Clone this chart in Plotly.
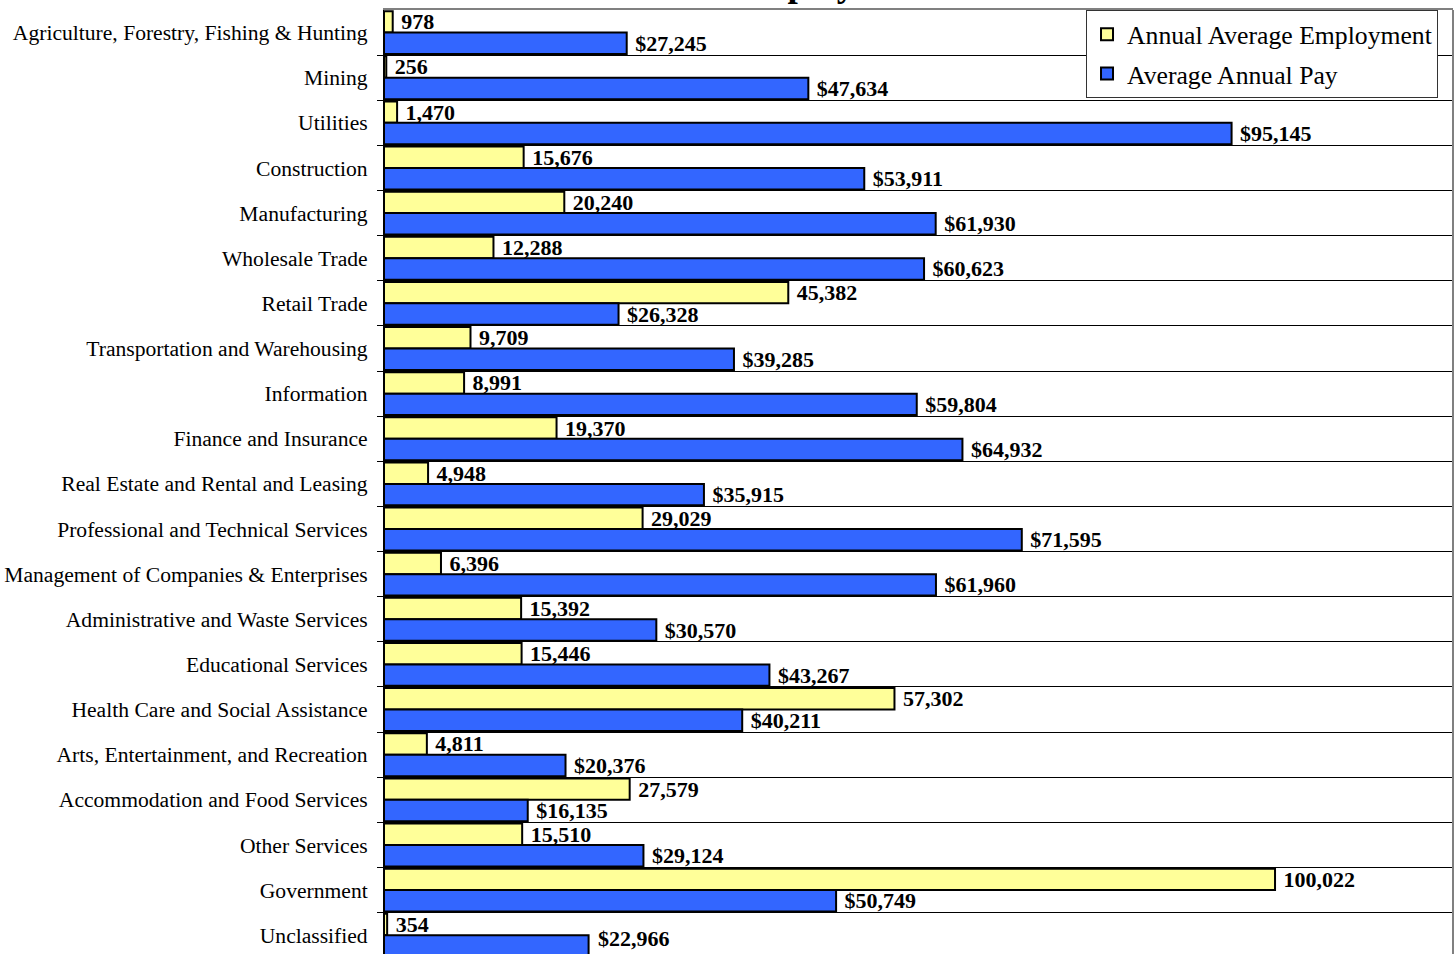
import plotly.graph_objects as go

industries = [
    "Agriculture, Forestry, Fishing & Hunting", "Mining", "Utilities", "Construction",
    "Manufacturing", "Wholesale Trade", "Retail Trade", "Transportation and Warehousing",
    "Information", "Finance and Insurance", "Real Estate and Rental and Leasing",
    "Professional and Technical Services", "Management of Companies & Enterprises",
    "Administrative and Waste Services", "Educational Services",
    "Health Care and Social Assistance", "Arts, Entertainment, and Recreation",
    "Accommodation and Food Services", "Other Services", "Government", "Unclassified",
]
employment = [978, 256, 1470, 15676, 20240, 12288, 45382, 9709, 8991, 19370, 4948,
              29029, 6396, 15392, 15446, 57302, 4811, 27579, 15510, 100022, 354]
pay = [27245, 47634, 95145, 53911, 61930, 60623, 26328, 39285, 59804, 64932, 35915,
       71595, 61960, 30570, 43267, 40211, 20376, 16135, 29124, 50749, 22966]

pos = list(range(len(industries)))
boundaries = [p + 0.5 for p in pos]

FONT = "Liberation Serif"
LABEL_FONT = dict(family=FONT, size=22, color="black", weight="bold")

# last pay label is lifted to stay inside the visible plot (as in the reference)
pay_text = ["\u00a0${:,}".format(v) for v in pay]
pay_text[-1] = ""

fig = go.Figure()
fig.add_trace(go.Bar(
    y=pos, x=employment, orientation="h", name="Annual Average Employment",
    legendgroup="emp",
    marker=dict(color="#FFFF99", line=dict(color="black", width=2)),
    texttemplate="\u00a0%{x:,.0f}", textposition="outside", constraintext="none",
    textfont=LABEL_FONT, cliponaxis=False,
))
fig.add_trace(go.Bar(
    y=pos, x=pay, orientation="h", name="Average Annual Pay",
    legendgroup="pay",
    marker=dict(color="#3366FF", line=dict(color="black", width=2)),
    text=pay_text, textposition="outside", constraintext="none",
    textfont=LABEL_FONT, cliponaxis=False,
))

fig.update_layout(
    width=1455, height=954,
    margin=dict(l=384, r=2, t=10, b=0),
    paper_bgcolor="white", plot_bgcolor="white",
    barmode="group", bargap=0.05, bargroupgap=0,
    font=dict(family=FONT, color="black"),
    showlegend=True,
    legend=dict(
        x=0.6567, xanchor="left", y=1.0, yanchor="top",
        bgcolor="white", bordercolor="#333333", borderwidth=1,
        font=dict(family=FONT, size=25.7, color="black"),
        traceorder="grouped", tracegroupgap=3,
    ),
    xaxis=dict(
        range=[0, 120000], showticklabels=False, showgrid=False, zeroline=False,
        showline=True, mirror=True, linecolor="#808080", linewidth=2, ticks="",
    ),
    yaxis=dict(
        range=[20.416, -0.5], tickvals=pos, ticktext=industries,
        tickfont=dict(family=FONT, size=21.6, color="black"),
        ticks="outside", ticklen=11, tickcolor="rgba(0,0,0,0)",
        showgrid=False, zeroline=False,
        showline=True, linecolor="black", linewidth=1,
        minor=dict(tickvals=boundaries, showgrid=True, gridcolor="black", gridwidth=1,
                   ticks="outside", ticklen=6, tickcolor="black"),
    ),
    shapes=[dict(type="line", xref="paper", yref="paper", x0=1, x1=1, y0=0, y1=1,
                 line=dict(color="#808080", width=2))],
    annotations=[
        dict(
            text="<b>Employment</b>", xref="paper", yref="paper", x=0.421, y=1,
            xanchor="center", yanchor="bottom", yshift=4, showarrow=False,
            font=dict(family=FONT, size=37, color="black"),
        ),
        dict(
            text="${:,}".format(pay[-1]), xref="x", yref="y", x=pay[-1], y=pos[-1],
            xanchor="left", yanchor="middle", xshift=7, yshift=-3, showarrow=False,
            font=LABEL_FONT,
        ),
    ],
)

fig.write_html(
    "out.html",
    config={"displayModeBar": False},
    post_script="document.body.style.margin='0';document.body.style.overflow='hidden';",
)
